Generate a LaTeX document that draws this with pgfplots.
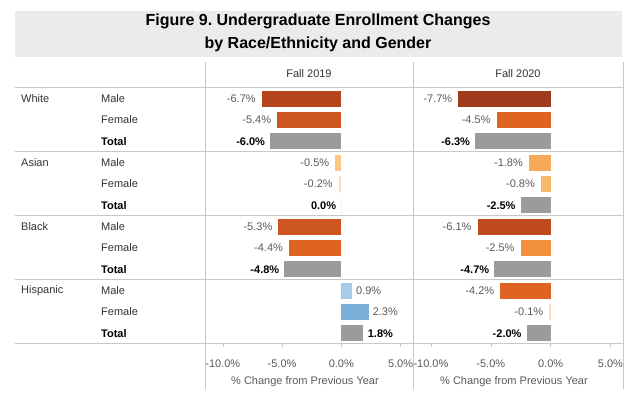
\documentclass[border=0pt]{standalone}
\usepackage{fontspec}
\setmainfont{Liberation Sans}
\usepackage{pgfplots}
\pgfplotsset{compat=1.18}
\frenchspacing
\definecolor{linegray}{HTML}{C8C8C8}
\definecolor{titlebg}{HTML}{EBEBEB}
\definecolor{labgray}{HTML}{595959}
\definecolor{txt}{HTML}{333333}
\definecolor{totgray}{HTML}{9B9B9B}
\definecolor{cA}{HTML}{A03A1C}
\definecolor{cB}{HTML}{B5441C}
\definecolor{cC}{HTML}{BF4A1D}
\definecolor{cD}{HTML}{CD5521}
\definecolor{cE}{HTML}{DF6422}
\definecolor{cF}{HTML}{F28F3B}
\definecolor{cG}{HTML}{F6A957}
\definecolor{cH}{HTML}{F8BA6A}
\definecolor{cI}{HTML}{FAC882}
\definecolor{cJ}{HTML}{F6DEC4}
\definecolor{bA}{HTML}{A9CCE6}
\definecolor{bB}{HTML}{7AAFDA}
\newcommand{\fs}{\fontsize{11}{13}\selectfont}
\pgfplotsset{
  panel/.style={
    scale only axis, width=208pt, height=256pt,
    xmin=-11.5, xmax=6.05, ymin=-11.5, ymax=0.5,
    xbar, bar width=16pt, bar shift=0pt, clip=false,
    axis x line*=bottom, axis y line=none,
    x axis line style={draw=linegray, line width=1pt},
    xtick={-10,-5,0,5}, tick align=outside, major tick length=3pt,
    every tick/.style={draw=linegray},
    /pgf/number format/assume math mode=true,
    xticklabel={\pgfmathprintnumber[fixed,fixed zerofill,precision=1]{\tick}\%},
    tick label style={font=\fs, text=labgray},
    xticklabel style={yshift=-9pt},
    xlabel={\% Change from Previous Year},
    xlabel style={font=\fs, text=labgray, yshift=-2pt, xshift=-4pt},
    point meta=x,
    nodes near coords={\pgfmathprintnumber[fixed,fixed zerofill,precision=1]{\pgfplotspointmeta}\%},
    every node near coord/.append style={font=\fs, text=labgray, inner ysep=2pt},
  },
  neg/.style={draw=none, fill=#1, every node near coord/.append style={anchor=east, inner xsep=6pt}},
  pos/.style={draw=none, fill=#1, every node near coord/.append style={anchor=west, inner xsep=4pt}},
  tot/.style={draw=none, fill=totgray, every node near coord/.append style={anchor=#1, inner xsep=5pt, font=\fs\bfseries, text=black}},
}
\begin{document}
\begin{tikzpicture}[x=1pt,y=1pt]
\path (0,0) rectangle (631,398);
% title box
\fill[titlebg] (14.7,398-11) rectangle (622,398-57);
\node[font=\fontsize{16}{18}\selectfont\bfseries, text=black] at (318,398-21) {Figure 9. Undergraduate Enrollment Changes};
\node[font=\fontsize{16}{18}\selectfont\bfseries, text=black] at (318,398-44) {by Race/Ethnicity and Gender};

% Fall 2019
\begin{axis}[panel, at={(205pt,54pt)}, anchor=south west]
\addplot[neg=cB] coordinates {(-6.7,0)};
\addplot[neg=cD] coordinates {(-5.4,-1)};
\addplot[tot=east] coordinates {(-6.0,-2)};
\addplot[neg=cI] coordinates {(-0.5,-3)};
\addplot[neg=cJ] coordinates {(-0.2,-4)};
\addplot[tot=east] coordinates {(0.0,-5)};
\addplot[neg=cD] coordinates {(-5.3,-6)};
\addplot[neg=cE] coordinates {(-4.4,-7)};
\addplot[tot=east] coordinates {(-4.8,-8)};
\addplot[pos=bA] coordinates {(0.9,-9)};
\addplot[pos=bB] coordinates {(2.3,-10)};
\addplot[tot=west] coordinates {(1.8,-11)};
\end{axis}

% Fall 2020
\begin{axis}[panel, at={(413pt,54pt)}, anchor=south west, width=210pt]
\addplot[neg=cA] coordinates {(-7.7,0)};
\addplot[neg=cE] coordinates {(-4.5,-1)};
\addplot[tot=east] coordinates {(-6.3,-2)};
\addplot[neg=cG] coordinates {(-1.8,-3)};
\addplot[neg=cH] coordinates {(-0.8,-4)};
\addplot[tot=east] coordinates {(-2.5,-5)};
\addplot[neg=cC] coordinates {(-6.1,-6)};
\addplot[neg=cF] coordinates {(-2.5,-7)};
\addplot[tot=east] coordinates {(-4.7,-8)};
\addplot[neg=cE] coordinates {(-4.2,-9)};
\addplot[neg=cJ] coordinates {(-0.1,-10)};
\addplot[tot=east] coordinates {(-2.0,-11)};
\end{axis}

% table lines
\begin{scope}[draw=linegray, line width=1pt]
\foreach \yy in {88,152,216,280,344} {\draw (14.7,398-\yy) -- (623,398-\yy);}
\foreach \xx in {205,413,623} {\draw (\xx,398-62) -- (\xx,398-389);}
\end{scope}

% headers
\node[font=\fs, text=txt] at (309,398-74) {Fall 2019};
\node[font=\fs, text=txt] at (518,398-74) {Fall 2020};

% row labels
\foreach \r [count=\g from 0] in {White,Asian,Black,Hispanic} {
  \node[font=\fs, text=txt, anchor=west, inner sep=0pt] at (21,398-98.7-64*\g) {\r};
  \node[font=\fs, text=txt, anchor=west, inner sep=0pt] at (101,398-98.7-64*\g) {Male};
  \node[font=\fs, text=txt, anchor=west, inner sep=0pt] at (101,398-120-64*\g) {Female};
  \node[font=\fs\bfseries, text=black, anchor=west, inner sep=0pt] at (101,398-141.3-64*\g) {Total};
}
\end{tikzpicture}
\end{document}
